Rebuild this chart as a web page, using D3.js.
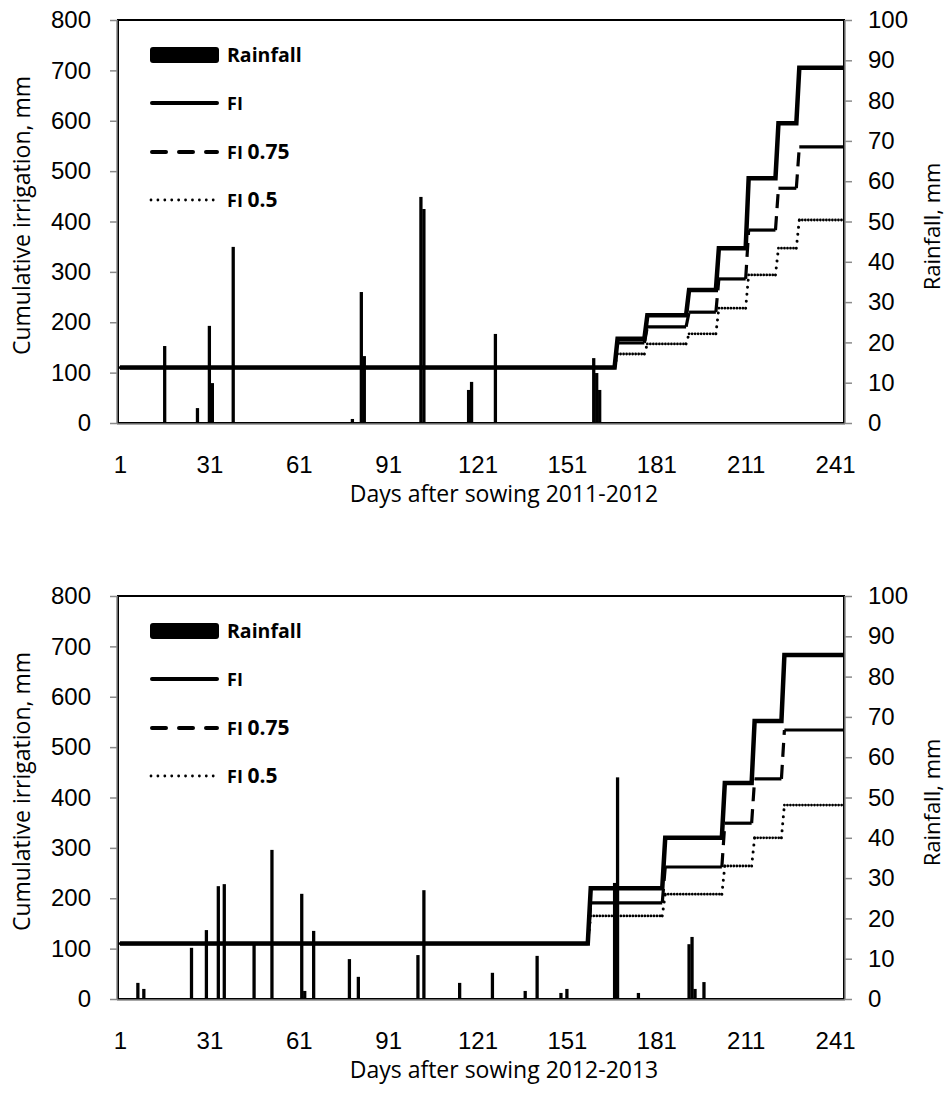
<!DOCTYPE html>
<html>
<head>
<meta charset="utf-8">
<script src="https://cdn.jsdelivr.net/npm/d3@7"></script>
<style>
html,body{margin:0;padding:0;background:#fff;}
svg{display:block;}
</style>
</head>
<body>
<div id="chart"></div>
<script>
// ---------- data ----------
const xTickDays = [1, 31, 61, 91, 121, 151, 181, 211, 241];
const leftTicks = [0, 100, 200, 300, 400, 500, 600, 700, 800];
const rightTicks = [0, 10, 20, 30, 40, 50, 60, 70, 80, 90, 100];
const legendLabels = ["Rainfall", "FI", "FI 0.75", "FI 0.5"];

// 2011-2012 season
const rainDays2011 = [16, 27, 31, 32, 39, 79, 82, 83, 102, 103, 118, 119, 127, 160, 161, 162];
const rain2011 = [19.1, 3.7, 24.1, 9.9, 43.7, 1.0, 32.5, 16.6, 56.1, 53.1, 8.2, 10.2, 22.1, 16.1, 12.4, 8.2];
const stepDays2011 = [1, 168, 178, 192, 202, 212, 222, 229];
const fi2011 = [110, 167, 214, 264, 347, 486, 595, 705];
const fi75_2011 = [110, 159, 191, 220, 286, 383, 466, 548];
const fi50_2011 = [110, 137, 157, 177, 228, 294, 347, 403];

// 2012-2013 season
const rainDays2012 = [7, 9, 25, 30, 34, 36, 46, 52, 62, 63, 66, 78, 81, 101, 103, 115, 126, 137, 141, 149, 151, 167, 168, 175, 192, 193, 194, 197];
const rain2012 = [4.0, 2.5, 12.7, 17.1, 28.0, 28.5, 13.4, 37.0, 26.1, 2.0, 16.9, 9.9, 5.5, 10.9, 27.0, 4.0, 6.5, 2.0, 10.7, 1.5, 2.5, 28.8, 55.0, 1.5, 13.6, 15.4, 2.5, 4.2];
const stepDays2012 = [1, 159, 184, 204, 214, 224];
const fi2012 = [110, 220, 320, 429, 552, 683];
const fi75_2012 = [110, 191, 262, 349, 437, 534];
const fi50_2012 = [110, 165, 208, 264, 320, 385];

const lastDay = 244;

// ---------- layout ----------
const W = 951, H = 1099;
const plotLeft = 118, plotRight = 844;
const panels = [
  {top: 20, bottom: 423, rainDays: rainDays2011, rain: rain2011, stepDays: stepDays2011,
   fi: fi2011, fi75: fi75_2011, fi50: fi50_2011, title: "Days after sowing 2011-2012"},
  {top: 596, bottom: 999, rainDays: rainDays2012, rain: rain2012, stepDays: stepDays2012,
   fi: fi2012, fi75: fi75_2012, fi50: fi50_2012, title: "Days after sowing 2012-2013"}
];

const svg = d3.select("#chart").append("svg")
  .attr("width", W).attr("height", H)
  .attr("viewBox", `0 0 ${W} ${H}`);
svg.append("rect").attr("width", W).attr("height", H).attr("fill", "#fff");

const tickFont = "'Liberation Sans', Arial, sans-serif";
const titleFont = "'Open Sans', 'Noto Sans', sans-serif";

const x = d3.scaleLinear().domain([0.33, 244]).range([plotLeft, plotRight]);

panels.forEach(p => {
  const g = svg.append("g");
  const yL = d3.scaleLinear().domain([0, 800]).range([p.bottom, p.top]);
  const yR = d3.scaleLinear().domain([0, 100]).range([p.bottom, p.top]);

  // rainfall bars
  g.append("g").selectAll("rect").data(p.rainDays).join("rect")
    .attr("x", d => x(d - 0.55))
    .attr("width", d => x(d + 0.55) - x(d - 0.55))
    .attr("y", (d, i) => yR(p.rain[i]))
    .attr("height", (d, i) => yR(0) - yR(p.rain[i]))
    .attr("fill", "#000");

  // step helpers built from the data arrays
  const fullPts = vals => {
    const pts = [[p.stepDays[0], vals[0]]];
    for (let i = 1; i < vals.length; i++) {
      pts.push([p.stepDays[i] - 1, vals[i - 1]]);
      pts.push([p.stepDays[i], vals[i]]);
    }
    pts.push([lastDay, vals[vals.length - 1]]);
    return pts;
  };
  const runs = vals => vals.map((v, i) => [[p.stepDays[i], v],
    [i < vals.length - 1 ? p.stepDays[i + 1] - 1 : lastDay, v]]);
  const rises = vals => vals.slice(1).map((v, i) => [[p.stepDays[i + 1] - 1, vals[i]], [p.stepDays[i + 1], v]]);
  const line = d3.line().x(d => x(d[0])).y(d => yL(d[1]));

  // FI 0.5 (dotted)
  g.append("g").selectAll("path").data(runs(p.fi50)).join("path")
    .attr("d", line).attr("fill", "none").attr("stroke", "#000")
    .attr("stroke-width", 2.8).attr("stroke-linecap", "round")
    .attr("stroke-dasharray", "0.01,3");
  g.append("g").selectAll("path").data(rises(p.fi50)).join("path")
    .attr("d", line).attr("fill", "none").attr("stroke", "#000")
    .attr("stroke-width", 3).attr("stroke-linecap", "round")
    .attr("stroke-dasharray", "0.01,7");

  // FI 0.75 (dashed)
  g.append("g").selectAll("path").data(runs(p.fi75)).join("path")
    .attr("d", line).attr("fill", "none").attr("stroke", "#000")
    .attr("stroke-width", 3.2);
  g.append("g").selectAll("path").data(rises(p.fi75)).join("path")
    .attr("d", line).attr("fill", "none").attr("stroke", "#000")
    .attr("stroke-width", 3.2).attr("stroke-dasharray", "14,8");

  // FI (solid thick)
  g.append("path").datum(fullPts(p.fi)).attr("d", line)
    .attr("fill", "none").attr("stroke", "#000").attr("stroke-width", 4.5)
    .attr("stroke-linejoin", "miter");

  // plot border
  g.append("rect").attr("x", plotLeft).attr("y", p.top)
    .attr("width", plotRight - plotLeft).attr("height", p.bottom - p.top)
    .attr("fill", "none").attr("stroke", "#000").attr("stroke-width", 2);

  // gray axis lines
  g.append("line").attr("x1", plotLeft - 1).attr("x2", plotLeft - 1).attr("y1", p.top).attr("y2", p.bottom + 1)
    .attr("stroke", "#8a8a8a").attr("stroke-width", 1.5);
  g.append("line").attr("x1", plotRight + 1).attr("x2", plotRight + 1).attr("y1", p.top).attr("y2", p.bottom + 1)
    .attr("stroke", "#8a8a8a").attr("stroke-width", 1.5);
  g.append("line").attr("x1", plotLeft - 1).attr("x2", plotRight + 1).attr("y1", p.bottom + 1).attr("y2", p.bottom + 1)
    .attr("stroke", "#8a8a8a").attr("stroke-width", 1.5);

  // left axis
  const axL = g.append("g").attr("transform", `translate(${plotLeft - 1},0)`)
    .call(d3.axisLeft(yL).tickValues(leftTicks).tickSize(7).tickPadding(19).tickFormat(d3.format("d")));
  axL.select(".domain").remove();
  axL.selectAll(".tick line").attr("stroke", "#8a8a8a").attr("stroke-width", 1.5);
  axL.selectAll(".tick text").attr("font-family", tickFont).attr("font-size", 24).attr("fill", "#000");

  // right axis
  const axR = g.append("g").attr("transform", `translate(${plotRight + 1},0)`)
    .call(d3.axisRight(yR).tickValues(rightTicks).tickSize(7).tickPadding(16).tickFormat(d3.format("d")));
  axR.select(".domain").remove();
  axR.selectAll(".tick line").attr("stroke", "#8a8a8a").attr("stroke-width", 1.5);
  axR.selectAll(".tick text").attr("font-family", tickFont).attr("font-size", 24).attr("fill", "#000");

  // bottom axis (labels only)
  const axB = g.append("g").attr("transform", `translate(0,${p.bottom})`)
    .call(d3.axisBottom(x).tickValues(xTickDays).tickSize(0).tickPadding(33).tickFormat(d3.format("d")));
  axB.select(".domain").remove();
  axB.selectAll(".tick text").attr("font-family", tickFont).attr("font-size", 24).attr("fill", "#000");

  // axis titles
  g.append("text").attr("x", 504).attr("y", p.bottom + 79)
    .attr("text-anchor", "middle").attr("font-family", titleFont).attr("font-size", 23)
    .attr("fill", "#000").text(p.title);
  g.append("text").attr("transform", `translate(30,${(p.top + p.bottom) / 2 - 6}) rotate(-90)`)
    .attr("text-anchor", "middle").attr("font-family", titleFont).attr("font-size", 23)
    .attr("fill", "#000").text("Cumulative irrigation, mm");
  g.append("text").attr("transform", `translate(940,${(p.top + p.bottom) / 2 + 5}) rotate(-90)`)
    .attr("text-anchor", "middle").attr("font-family", titleFont).attr("font-size", 22)
    .attr("fill", "#000").text("Rainfall, mm");

  // legend
  const lg = g.append("g").attr("transform", `translate(0,${p.top})`);
  const lx1 = 150, lx2 = 219, tx = 227;
  const rowY = [35, 83, 132, 180];
  lg.append("rect").attr("x", lx1).attr("y", rowY[0] - 8).attr("width", lx2 - lx1).attr("height", 16)
    .attr("rx", 3).attr("fill", "#000");
  lg.append("line").attr("x1", lx1 + 2).attr("x2", lx2 - 2).attr("y1", rowY[1]).attr("y2", rowY[1])
    .attr("stroke", "#000").attr("stroke-width", 4).attr("stroke-linecap", "round");
  lg.append("line").attr("x1", lx1 + 2).attr("x2", lx2 - 2).attr("y1", rowY[2]).attr("y2", rowY[2])
    .attr("stroke", "#000").attr("stroke-width", 4).attr("stroke-linecap", "round")
    .attr("stroke-dasharray", "14,13");
  lg.append("line").attr("x1", lx1 + 1).attr("x2", lx2 - 4).attr("y1", rowY[3]).attr("y2", rowY[3])
    .attr("stroke", "#000").attr("stroke-width", 2.8).attr("stroke-linecap", "round")
    .attr("stroke-dasharray", "0.01,6.9");

  const legText = (i, parts) => {
    const t = lg.append("text").attr("x", tx).attr("y", rowY[i] + 7)
      .attr("font-family", titleFont).attr("font-weight", "bold").attr("fill", "#000");
    parts.forEach(pp => t.append("tspan").attr("font-size", pp[1]).text(pp[0]));
  };
  const splitLabel = s => {
    const k = s.indexOf(" ");
    return k < 0 ? [[s, 18]] : [[s.slice(0, k) + " ", 18], [s.slice(k + 1), 21]];
  };
  legText(0, [[legendLabels[0], 19.5]]);
  legText(1, splitLabel(legendLabels[1]));
  legText(2, splitLabel(legendLabels[2]));
  legText(3, splitLabel(legendLabels[3]));
});
</script>
</body>
</html>
